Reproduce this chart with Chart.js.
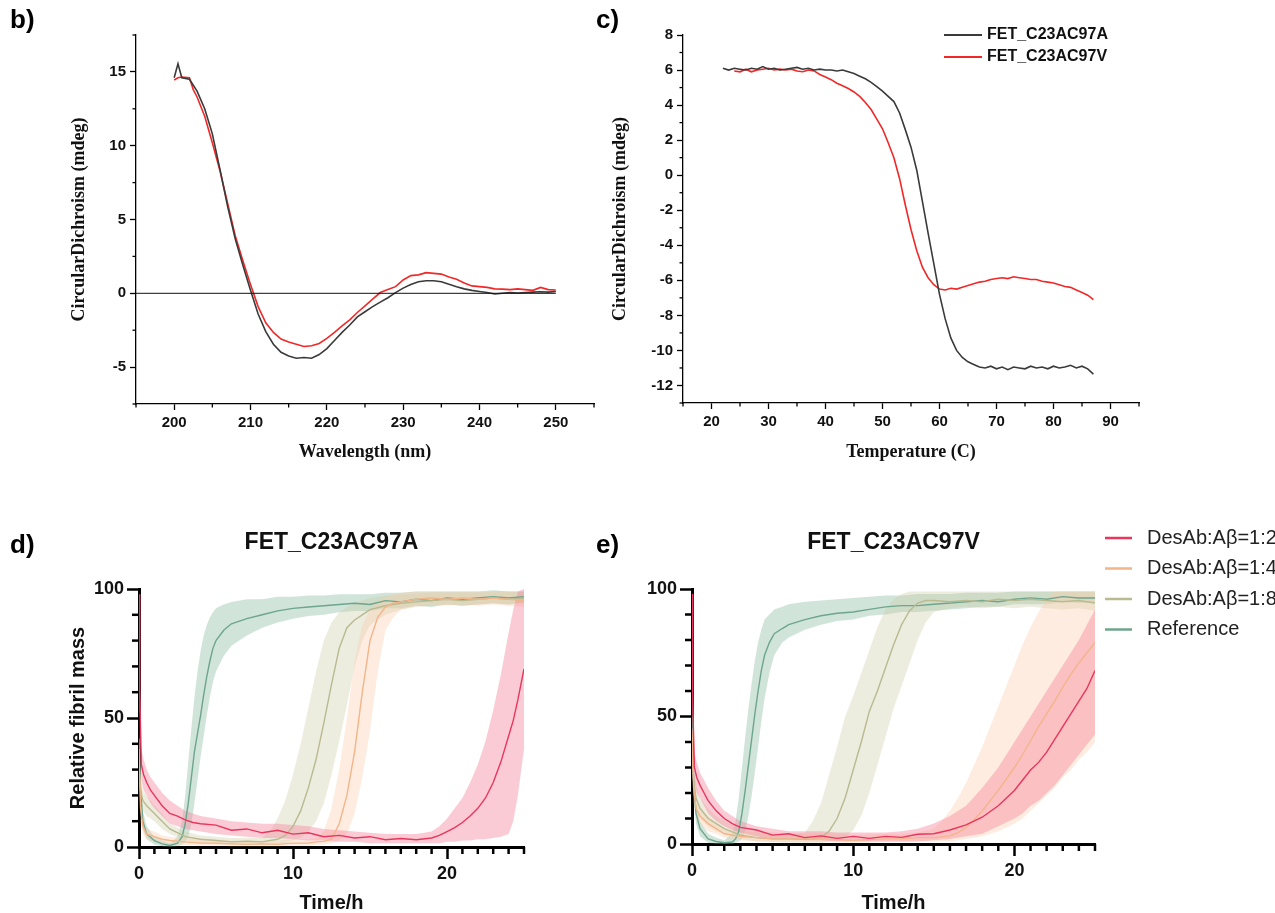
<!DOCTYPE html>
<html><head><meta charset="utf-8">
<script src="https://cdn.jsdelivr.net/npm/chart.js@4.4.1/dist/chart.umd.min.js"></script>
<style>
body{margin:0;background:#fff;width:1275px;height:913px;position:relative;overflow:hidden;font-family:'Liberation Sans',Arial,sans-serif}
canvas{position:absolute}
.lbl{position:absolute;font:bold 26px 'Liberation Sans',Arial,sans-serif;line-height:1;color:#000;z-index:5}
</style></head><body>
<canvas id="cb" width="620" height="480" style="left:0;top:0"></canvas>
<canvas id="cc" width="675" height="480" style="left:600px;top:0"></canvas>
<canvas id="cd" width="620" height="423" style="left:0;top:490px"></canvas>
<canvas id="ce" width="655" height="423" style="left:620px;top:490px"></canvas>
<div class="lbl" style="left:10px;top:6px">b)</div>
<div class="lbl" style="left:596px;top:6px">c)</div>
<div class="lbl" style="left:10px;top:531px">d)</div>
<div class="lbl" style="left:596px;top:531px">e)</div>
<script>
// ---------- Panel b: CD spectra ----------
const bWaveA = [200,200.5,201,202,203,204,205,206,207,208,209,210,211,212,213,214,215,216,217,218,219,220,221,222,223,224,225,226,227,228,229,230,231,232,233,234,235,236,237,238,239,240,241,242,243,244,245,246,247,248,249,250];
const bCD_A = [14.6,15.55,14.6,14.5,13.7,12.5,10.8,8.4,5.9,3.7,1.9,0.2,-1.4,-2.6,-3.45,-4.0,-4.25,-4.4,-4.35,-4.4,-4.15,-3.75,-3.2,-2.65,-2.15,-1.6,-1.25,-0.9,-0.6,-0.3,0.05,0.35,0.6,0.78,0.85,0.85,0.78,0.62,0.45,0.3,0.2,0.12,0.05,-0.05,0.0,0.05,0.02,0.05,0.08,0.1,0.08,0.12];
const bWaveV = [200,200.5,201,202,202.5,203,204,205,206,207,208,209,210,211,212,213,214,215,216,217,218,219,220,221,222,223,224,225,226,227,228,229,230,231,232,233,234,235,236,237,238,239,240,241,242,243,244,245,246,247,248,249,250];
const bCD_V = [14.45,14.6,14.65,14.6,13.8,13.3,12.0,10.2,8.3,6.1,3.9,2.2,0.6,-0.9,-2.0,-2.65,-3.1,-3.3,-3.45,-3.6,-3.55,-3.4,-3.05,-2.65,-2.2,-1.8,-1.3,-0.85,-0.4,0.05,0.25,0.45,0.9,1.2,1.25,1.4,1.35,1.3,1.1,0.95,0.7,0.5,0.45,0.4,0.3,0.28,0.25,0.3,0.25,0.2,0.4,0.25,0.22];
const bZeroX = [195,250];
const bZeroY = [0,0];
const bTicksX = [200,210,220,230,240,250];
const bMinorX = [195,205,215,225,235,245,255];
const bTicksY = [-5,0,5,10,15];
const bMinorY = [-7.5,-2.5,2.5,7.5,12.5,17.5];

// ---------- Panel c: thermal melt ----------
const cTempA = [22,23,24,25,26,27,28,29,30,31,32,33,34,35,36,37,38,39,40,41,42,43,44,45,46,47,48,49,50,51,52,53,54,55,56,57,58,59,60,61,62,63,64,65,66,67,68,69,70,71,72,73,74,75,76,77,78,79,80,81,82,83,84,85,86,87];
const cCD_A = [6.1,6.0,6.1,6.05,6.0,6.1,6.05,6.2,6.05,6.1,6.0,6.05,6.1,6.15,6.05,6.1,6.0,6.05,6.0,6.0,5.95,6.0,5.9,5.8,5.65,5.5,5.3,5.05,4.8,4.5,4.2,3.55,2.6,1.6,0.3,-1.5,-3.3,-5.05,-6.8,-8.2,-9.3,-10.0,-10.4,-10.65,-10.8,-10.95,-11.0,-10.9,-11.05,-10.95,-11.1,-10.95,-11.0,-11.05,-10.9,-11.0,-10.95,-11.05,-10.9,-11.0,-10.95,-10.85,-11.0,-10.9,-11.05,-11.35];
const cTempV = [24,25,26,27,28,29,30,31,32,33,34,35,36,37,38,39,40,41,42,43,44,45,46,47,48,49,50,51,52,53,54,55,56,57,58,59,60,61,62,63,64,65,66,67,68,69,70,71,72,73,74,75,76,77,78,79,80,81,82,83,84,85,86,87];
const cCD_V = [5.95,5.9,6.05,5.9,6.0,6.05,6.1,6.0,6.05,6.0,6.05,5.95,5.9,6.0,5.95,5.75,5.6,5.45,5.25,5.1,4.95,4.75,4.5,4.15,3.75,3.2,2.65,1.85,1.0,-0.2,-1.7,-3.1,-4.3,-5.25,-5.85,-6.25,-6.5,-6.55,-6.45,-6.5,-6.4,-6.3,-6.2,-6.1,-6.05,-5.95,-5.9,-5.85,-5.9,-5.8,-5.85,-5.9,-5.95,-5.95,-6.05,-6.1,-6.15,-6.25,-6.35,-6.4,-6.55,-6.7,-6.85,-7.1];
const cTicksX = [20,30,40,50,60,70,80,90];
const cMinorX = [15,25,35,45,55,65,75,85,95];
const cTicksY = [-12,-10,-8,-6,-4,-2,0,2,4,6,8];
const cMinorY = [-13,-11,-9,-7,-5,-3,-1,1,3,5,7];

// ---------- Panel d: FET_C23AC97A kinetics ----------
const dT_ref = [0,0.1,0.25,0.5,1,1.5,2,2.5,2.8,3,3.2,3.4,3.6,3.8,4,4.2,4.4,4.6,4.8,5,5.5,6,7,8,9,10,11,12,13,14,15,16,17,18,19,20,21,22,23,24,25];
const dRef = [42,22,10,5,2.5,1.2,0.6,1.5,4,9,17,27,37,44,51,59,66,72,77,80,84,86.5,88.5,90,91.5,92.5,93,93.5,94,94.5,94,95.5,95,96,95.5,96.5,96,96.5,97,96.5,97];
const dRefHi = [50,28,14,8,4,2.5,1.5,4,10,20,33,46,58,68,76,82,86,89,91,92.5,94,95,96,96,97,97,97.5,97.5,98,98,98,98.5,98.5,99,99,99,99,99,99.5,99,99];
const dRefLo = [35,16,7,3,1,0.3,0,0.3,1,2,4,9,17,26,35,43,51,58,64,68,74,78,82,85,87,88.5,89.5,90,91,91.5,91.5,92.5,92.5,93.5,93,94,93.5,94,94.5,94,95];
const dT_8 = [0,0.1,0.25,0.5,1,1.5,2,3,4,5,6,7,8,8.5,9,9.5,10,10.5,11,11.5,12,12.5,13,13.5,14,14.5,15,16,17,18,19,20,21,22,23,24,25];
const d18 = [30,22,18,16,13,10,7,4,3,2.5,2,2.2,2,2.5,3,4.5,8,14,23,34,48,63,77,85,88,90,92,93.5,94.5,95,95.5,96,95.5,96,96.5,96,96.5];
const d18Hi = [36,27,22,20,16,13,9,6,4.5,4,3.5,3.5,3.5,6,11,18,28,40,54,68,80,87,91,93,94.5,95.5,96.5,97.5,98,98,98.5,98.5,98.5,98.5,99,99,99];
const d18Lo = [24,17,14,12,10,7,5,2.5,1.5,1,0.8,1,0.8,1,1.2,1.5,2.5,3.5,6,10,17,28,41,55,70,80,86,90,92,93,93.5,94,93.5,94,94.5,94,94.5];
const dT_4 = [0,0.1,0.25,0.5,1,1.5,2,3,4,5,6,7,8,9,10,11,11.5,12,12.5,13,13.5,14,14.5,15,15.5,16,16.5,17,18,19,20,21,22,23,24,25];
const d14 = [38,15,8,5,4,3,2.5,2,1.5,1.5,1.2,1,1.2,1,1.5,1.5,2,2.2,3,9,20,37,60,80,89,93,94.5,95,96,96.5,96,96.5,96,96.5,96,95.5];
const d14Hi = [45,20,11,7,6,4.5,4,3.5,3,3,2.5,2.5,2.5,2.5,3,3,3.5,6,15,30,50,72,86,92,95,97,98,98.5,99,99,99,99,99,99,99,98.5];
const d14Lo = [30,10,5,3,2,1.5,1,0.8,0.5,0.5,0.3,0.3,0.3,0.3,0.5,0.5,0.8,1,1.5,2.5,5,13,27,45,68,84,89,92,93.5,94,93.5,94,93.5,94,93.5,93];
const dT_2 = [0,0.05,0.15,0.3,0.5,0.75,1,1.5,2,2.5,3,3.5,4,5,6,7,8,9,10,11,12,13,14,15,16,17,18,19,19.5,20,20.5,21,21.5,22,22.5,23,23.5,24,24.3,24.6,25];
const d12 = [98,60,32,28,25,22,20,16,13,12,10.5,9.5,9,8.5,6.5,7,5.5,6.5,5,5.5,4,4.5,3.5,4,2.8,3.3,2.8,3.5,4.5,6,7.5,9.5,12,15,19,25,33,43,49,57,69];
const d12Hi = [100,68,38,34,30,27,25,21,18,16,14,13,12,11,10,9.5,9,9,8.5,8,7,6.5,6,5.5,5,5,5,6,8,11,15,19,25,32,41,53,67,83,92,99,100];
const d12Lo = [95,52,26,22,20,17,15,12,9,8,7,6.5,6,5,4.5,4,3.5,3.5,3,2.5,2.5,2,2,1.5,1.5,1.5,1.5,1.5,1.5,2,2,2.5,2.5,3,3,3.5,4,5,10,20,38];

// ---------- Panel e: FET_C23AC97V kinetics ----------
const eT_ref = [0,0.1,0.25,0.5,1,1.5,2,2.5,2.7,2.9,3.1,3.3,3.5,3.7,3.9,4.1,4.3,4.5,4.8,5.1,5.6,6,7,8,9,10,11,12,13,14,15,16,17,18,19,20,21,22,23,24,25];
const eRef = [50,25,12,6,2,1,0.5,0.8,2,5,12,21,31,41,51,60,68,74,79,82.5,84.5,86,88,89.5,90.5,91,92,93,93.5,93.5,94,94.5,95,95.5,95,96,96.5,96,97,96.5,96.5];
const eRefHi = [58,32,16,9,4,2.5,1.5,4,9,18,30,42,53,63,72,79,84,88,90,92,93,94,95,95.5,96,96.5,97,97.5,97.5,98,98,98,98.5,98.5,98.5,99,99,99,99,99,99];
const eRefLo = [42,18,8,3,0.5,0,0,0,0.5,1,2,5,11,19,28,38,48,57,67,74,79,81,84,86,87.5,88,89.5,90,91,91,91.5,92,92.5,93,93,94,94,94,95,94.5,94.5];
const eT_8 = [0,0.1,0.25,0.5,1,1.5,2,3,4,5,6,7,7.5,8,8.5,9,9.5,10,10.5,11,11.5,12,12.5,13,13.5,14,14.5,15,16,17,18,19,20,21,22,23,24,25];
const e18 = [35,25,18,14,10,8,6,3.5,2.5,2,2,1.8,2,2.5,5,10,18,29,40,52,60,69,78,86,91.5,94.5,95.5,95.5,95,95.5,95,96,95.5,96,95.5,95,95.5,94.5];
const e18Hi = [42,31,23,18,14,11,9,6,5,4.5,4,4.5,9,16,27,38,50,58,67,76,85,92,96,98,99,99,99,99,99,99,99,99,99,99,99,99,99,99];
const e18Lo = [28,19,13,10,7,5,4,2,1,0.8,0.5,0.5,0.5,0.5,1,1.5,2.5,5.5,11,20,31,42,53,62,71,80,87,91,92.5,93,92.5,93,92.5,93,92.5,92,92.5,91.5];
const eT_4 = [0,0.1,0.25,0.5,1,1.5,2,3,4,5,6,8,10,12,13,14,15,15.5,16,16.5,17,17.5,18,18.5,19,19.5,20,20.5,21,21.5,22,22.5,23,23.5,24,24.5,25];
const e14 = [45,22,14,11,8,6,4,3,2.5,2,2,2,1.5,2,2,2.5,2.5,2.8,3.2,4.5,6.5,9.5,13,17,21,25.5,30,35,40.5,46,51,56,61.5,66.5,71,75,79];
const e14Hi = [52,28,18,14,11,8.5,6,5,4.5,4,4,4,3.5,4,4,4.5,6,9,13,18,24,31,38,46,54,62,70,78,85,91,96,99,99,99,99,99,99];
const e14Lo = [38,16,10,8,5,4,2.5,1.5,1,0.8,0.8,0.8,0.5,0.8,0.8,1,1,1.2,1,1.5,2,2.5,3,4,5,6.5,8,10,13,16,19,22,26,29,33,36,40];
const eT_2 = [0,0.05,0.15,0.3,0.5,0.75,1,1.5,2,2.5,3,4,5,6,7,8,9,10,11,12,13,14,15,16,17,18,19,20,20.5,21,21.5,22,22.5,23,23.5,24,24.5,25];
const e12 = [98,55,30,26,23,20,17,13,10,8,6.5,5.5,3.5,4,2.5,3.2,2.2,3,2.2,3,2.6,3.8,4,5.5,7.5,10.5,15,21,25,29,32,36,41,46,51,56,61,68];
const e12Hi = [100,62,36,32,28,25,22,17,13,11,9,7,6,5,5,5,4.5,4.5,4.5,4.5,5,6,8,11,15,22,30,40,45,50,55,60,65,70,75,80,86,92];
const e12Lo = [95,48,24,20,18,15,12,9,7,5.5,4.5,3,2,2,1.5,1.5,1,1,1,1,1,1,1.5,2,3,4,7,10,12,15,17,20,23,27,31,35,39,43];

const kTicksX = [0,10,20];
const kMinorX = [1,2,3,4,5,6,7,8,9,11,12,13,14,15,16,17,18,19,21,22,23,24,25];
const kTicksY = [0,50,100];
const kMinorY = [10,20,30,40,60,70,80,90];
const seriesNames = ['DesAb:A\u03b2=1:2','DesAb:A\u03b2=1:4','DesAb:A\u03b2=1:8','Reference'];

// ---------- helpers ----------
const pts = (xs, ys) => xs.map((x, i) => ({x: x, y: ys[i]}));
const setTicks = arr => s => { s.ticks = arr.map(v => ({value: v})); };
const fixBox = (w, h) => s => {
  if (w != null) s.width = w;
  if (h != null) s.height = h;
  s.paddingLeft = s.paddingRight = s.paddingTop = s.paddingBottom = 0;
};
function axis(o) {
  return {
    type: 'linear', min: o.min, max: o.max,
    afterBuildTicks: setTicks(o.ticks),
    afterFit: fixBox(o.w, o.h),
    grid: {drawOnChartArea: false, drawTicks: true, tickLength: o.tl, tickWidth: o.tw, tickColor: '#000'},
    border: {display: true, color: '#000', width: o.bw},
    ticks: {font: o.font, color: '#111', padding: o.pad, maxRotation: 0, autoSkip: false, callback: v => String(v)},
    title: o.title ? {display: true, text: o.title, font: o.tfont, color: '#111', padding: o.tpad} : {display: false}
  };
}
const extras = {
  id: 'extras',
  afterDraw(chart, args, o) {
    const ctx = chart.ctx, ca = chart.chartArea;
    const xs = chart.scales.x, ys = chart.scales.y;
    ctx.save();
    ctx.strokeStyle = '#000';
    ctx.lineWidth = o.minorWidth;
    (o.minorX || []).forEach(v => {
      const px = xs.getPixelForValue(v);
      ctx.beginPath(); ctx.moveTo(px, ca.bottom); ctx.lineTo(px, ca.bottom + o.minorLen); ctx.stroke();
    });
    (o.minorY || []).forEach(v => {
      const py = ys.getPixelForValue(v);
      ctx.beginPath(); ctx.moveTo(ca.left, py); ctx.lineTo(ca.left - o.minorLen, py); ctx.stroke();
    });
    if (o.legend) {
      const L = o.legend; let i = 0;
      ctx.font = L.font; ctx.textBaseline = 'middle'; ctx.textAlign = 'left';
      chart.data.datasets.forEach(ds => {
        if (!ds.showInLegend) return;
        const y = L.y + i * L.rowH;
        ctx.strokeStyle = ds.borderColor; ctx.lineWidth = L.lineWidth;
        ctx.beginPath(); ctx.moveTo(L.x, y); ctx.lineTo(L.x + L.lineLen, y); ctx.stroke();
        ctx.fillStyle = L.color; ctx.fillText(ds.label, L.x + L.lineLen + L.gap, y);
        i++;
      });
    }
    if (o.title) {
      ctx.font = o.title.font; ctx.fillStyle = '#111'; ctx.textAlign = 'center'; ctx.textBaseline = 'middle';
      ctx.fillText(o.title.text, (ca.left + ca.right) / 2, ca.top - o.title.dy);
    }
    ctx.restore();
  }
};
const base = {responsive: false, animation: false, devicePixelRatio: 1,
  elements: {line: {tension: 0}, point: {radius: 0}}};
const tickFontS = {family: "'Liberation Sans', Arial", size: 15, weight: 'bold'};
const serifTitle = {family: "'Liberation Serif', 'Times New Roman'", size: 18, weight: 'bold'};

// ---------- chart b ----------
new Chart(document.getElementById('cb'), {
  type: 'line',
  data: {datasets: [
    {label: 'zero', data: pts(bZeroX, bZeroY), borderColor: '#111', borderWidth: 1, pointRadius: 0},
    {label: 'FET_C23AC97A', data: pts(bWaveA, bCD_A), borderColor: '#3a3a3a', borderWidth: 1.6, pointRadius: 0},
    {label: 'FET_C23AC97V', data: pts(bWaveV, bCD_V), borderColor: '#f02828', borderWidth: 1.6, pointRadius: 0}
  ]},
  options: Object.assign({}, base, {
    layout: {padding: {left: 65, top: 35, right: 26, bottom: 0}},
    plugins: {legend: {display: false}, tooltip: {enabled: false},
      extras: {minorX: bMinorX, minorY: bMinorY, minorLen: 3.5, minorWidth: 1.3}},
    scales: {
      x: axis({min: 195, max: 255, ticks: bTicksX, h: 76, tl: 6, tw: 1.3, bw: 1.3, font: tickFontS, pad: 4,
        title: 'Wavelength (nm)', tfont: serifTitle, tpad: {top: 0, bottom: 17}}),
      y: axis({min: -7.5, max: 17.5, ticks: bTicksY, w: 71, tl: 6, tw: 1.3, bw: 1.3, font: tickFontS, pad: 4,
        title: 'CircularDichroism (mdeg)', tfont: serifTitle, tpad: {top: 4, bottom: 0}})
    }
  }),
  plugins: [extras]
});

// ---------- chart c ----------
new Chart(document.getElementById('cc'), {
  type: 'line',
  data: {datasets: [
    {label: 'FET_C23AC97A', data: pts(cTempA, cCD_A), borderColor: '#3a3a3a', borderWidth: 1.6, pointRadius: 0, showInLegend: true},
    {label: 'FET_C23AC97V', data: pts(cTempV, cCD_V), borderColor: '#f02828', borderWidth: 1.6, pointRadius: 0, showInLegend: true}
  ]},
  options: Object.assign({}, base, {
    layout: {padding: {left: 6, top: 35, right: 136, bottom: 0}},
    plugins: {legend: {display: false}, tooltip: {enabled: false},
      extras: {minorX: cMinorX, minorY: cMinorY, minorLen: 3.5, minorWidth: 1.3,
        legend: {x: 344, y: 35, rowH: 22, lineLen: 38, gap: 5, lineWidth: 2, font: "bold 16px 'Liberation Sans', Arial", color: '#111'}}},
    scales: {
      x: axis({min: 15, max: 95, ticks: cTicksX, h: 77, tl: 6, tw: 1.3, bw: 1.3, font: tickFontS, pad: 4,
        title: 'Temperature (C)', tfont: serifTitle, tpad: {top: 0, bottom: 17}}),
      y: axis({min: -13, max: 8, ticks: cTicksY, w: 77, tl: 6, tw: 1.3, bw: 1.3, font: tickFontS, pad: 4,
        title: 'CircularDichroism (mdeg)', tfont: serifTitle, tpad: {top: 4, bottom: 0}})
    }
  }),
  plugins: [extras]
});

// ---------- kinetics helpers ----------
const lineCols = ['#e8365d', '#f3b58a', '#b9ba90', '#6ea58e'];
const bandCols = ['rgba(246,130,155,0.42)', 'rgba(250,205,170,0.38)', 'rgba(205,205,170,0.38)', 'rgba(125,180,150,0.36)'];
function series(t, m, hi, lo, k) {
  return [
    {data: pts(t, lo), borderWidth: 0, borderColor: 'rgba(0,0,0,0)', pointRadius: 0, fill: false, order: 2},
    {data: pts(t, hi), borderWidth: 0, borderColor: 'rgba(0,0,0,0)', pointRadius: 0, fill: '-1', backgroundColor: bandCols[k], order: 2},
    {label: seriesNames[k], data: pts(t, m), borderColor: lineCols[k], borderWidth: 1.4, pointRadius: 0, fill: false, order: 1, showInLegend: true}
  ];
}
const tickFontK = {family: "'Liberation Sans', Arial", size: 18, weight: 'bold'};
const titleK = {family: "'Liberation Sans', Arial", size: 20, weight: 'bold', lineHeight: 1};
const titleKY = {family: "'Liberation Sans', Arial", size: 20, weight: 'bold', lineHeight: 1.2};

// ---------- chart d ----------
new Chart(document.getElementById('cd'), {
  type: 'line',
  data: {datasets: [].concat(
    series(dT_2, d12, d12Hi, d12Lo, 0),
    series(dT_4, d14, d14Hi, d14Lo, 1),
    series(dT_8, d18, d18Hi, d18Lo, 2),
    series(dT_ref, dRef, dRefHi, dRefLo, 3)
  )},
  options: Object.assign({}, base, {
    layout: {padding: {left: 60, top: 99, right: 96, bottom: 0}},
    plugins: {legend: {display: false}, tooltip: {enabled: false},
      extras: {minorX: kMinorX, minorY: kMinorY, minorLen: 7, minorWidth: 2.5,
        title: {text: 'FET_C23AC97A', font: "bold 23px 'Liberation Sans', Arial", dy: 46}}},
    scales: {
      x: axis({min: 0, max: 25, ticks: kTicksX, h: 66, tl: 12, tw: 2.5, bw: 3, font: tickFontK, pad: 4,
        title: 'Time/h', tfont: titleK, tpad: {top: 0, bottom: 0}}),
      y: axis({min: 0, max: 100, ticks: kTicksY, w: 79, tl: 12, tw: 2.5, bw: 3, font: tickFontK, pad: 3,
        title: 'Relative fibril mass', tfont: titleKY, tpad: {top: 6, bottom: 0}})
    }
  }),
  plugins: [extras]
});

// ---------- chart e ----------
new Chart(document.getElementById('ce'), {
  type: 'line',
  data: {datasets: [].concat(
    series(eT_2, e12, e12Hi, e12Lo, 0),
    series(eT_4, e14, e14Hi, e14Lo, 1),
    series(eT_8, e18, e18Hi, e18Lo, 2),
    series(eT_ref, eRef, eRefHi, eRefLo, 3)
  )},
  options: Object.assign({}, base, {
    layout: {padding: {left: 0, top: 99, right: 180, bottom: 0}},
    plugins: {legend: {display: false}, tooltip: {enabled: false},
      extras: {minorX: kMinorX, minorY: kMinorY, minorLen: 7, minorWidth: 2.5,
        title: {text: 'FET_C23AC97V', font: "bold 23px 'Liberation Sans', Arial", dy: 46},
        legend: {x: 485, y: 48, rowH: 30.5, lineLen: 27, gap: 15, lineWidth: 2.5, font: "20px 'Liberation Sans', Arial", color: '#222'}}},
    scales: {
      x: axis({min: 0, max: 25, ticks: kTicksX, h: 69, tl: 12, tw: 2.5, bw: 3, font: tickFontK, pad: 4,
        title: 'Time/h', tfont: titleK, tpad: {top: 0, bottom: 0}}),
      y: axis({min: 0, max: 100, ticks: kTicksY, w: 72, tl: 12, tw: 2.5, bw: 3, font: tickFontK, pad: 3})
    }
  }),
  plugins: [extras]
});
</script>
</body></html>
